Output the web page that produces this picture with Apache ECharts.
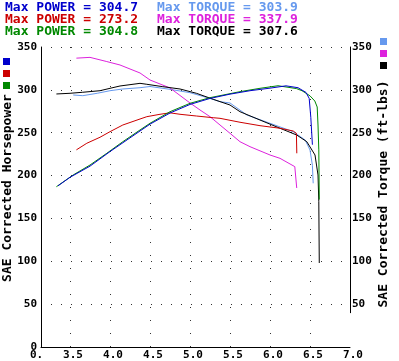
<!DOCTYPE html>
<html>
<head>
<meta charset="utf-8">
<script src="https://cdn.jsdelivr.net/npm/echarts@6/dist/echarts.min.js"></script>
<style>html,body{margin:0;padding:0;background:#fff;}#c{width:399px;height:361px;}</style>
</head>
<body>
<div id="c"></div>
<script>
// ---- data (RPM x1000, value) ----
const xTicks = [3.5, 4.0, 4.5, 5.0, 5.5, 6.0, 6.5, 7.0];
const xGridTicks = [3.5, 4.0, 4.5, 5.0, 5.5, 6.0, 6.5];
const rightTicks = [50, 100, 150, 200, 250, 300, 350];

const rpmPowerBlue = [3.35, 3.5, 3.75, 4.0, 4.25, 4.5, 4.75, 5.0, 5.25, 5.5, 5.75, 6.0, 6.2, 6.35, 6.45, 6.49, 6.51, 6.53];
const hpBlue       = [188, 198, 211, 228, 244, 260, 273, 283, 290, 295, 299, 302, 304.7, 302.5, 297, 290, 268, 236];

const rpmPowerRed = [3.58, 3.71, 3.875, 4.0, 4.16, 4.375, 4.46, 4.625, 4.75, 4.875, 5.08, 5.29, 5.375, 5.625, 5.875, 6.125, 6.29, 6.33, 6.335];
const hpRed       = [230, 237.7, 244.7, 251.2, 259, 266, 268.7, 271.5, 273.2, 271.5, 269.5, 267.5, 266.8, 262.2, 258.2, 255.2, 252, 249.3, 226];

const rpmPowerGreen = [3.33, 3.54, 3.75, 3.96, 4.16, 4.375, 4.5, 4.75, 5.0, 5.25, 5.375, 5.625, 5.875, 6.1, 6.33, 6.4, 6.5, 6.56, 6.59, 6.60, 6.61, 6.616];
const hpGreen       = [187, 200.7, 212.3, 226, 239.5, 253.2, 261, 274.5, 284.3, 290.9, 293.2, 297.9, 301.8, 304.8, 301.5, 299, 293, 287, 280, 259, 230, 172];

const rpmTorqueLight = [3.54, 3.66, 3.84, 4.0, 4.16, 4.375, 4.5, 4.75, 5.0, 5.25, 5.375, 5.5, 5.71, 6.0, 6.29, 6.44, 6.5, 6.53, 6.54];
const tqLight        = [294, 293.2, 296, 299, 301, 302.5, 303.9, 300.6, 296.7, 290, 286.2, 284.7, 270.7, 261, 251.2, 241.5, 229.8, 212, 191];

const rpmTorqueMagenta = [3.58, 3.75, 3.96, 4.125, 4.375, 4.5, 4.75, 5.0, 5.125, 5.25, 5.5, 5.625, 5.75, 6.0, 6.125, 6.31, 6.334];
const tqMagenta        = [337, 337.9, 333, 329, 319.7, 311.5, 302.2, 284.7, 276.5, 268.7, 249.3, 239.5, 233.7, 224, 220.1, 210.4, 185.5];

const rpmTorqueBlack = [3.33, 3.5, 3.66, 3.875, 4.0, 4.125, 4.375, 4.46, 4.66, 4.875, 5.08, 5.29, 5.5, 5.625, 5.875, 6.125, 6.334, 6.46, 6.5625, 6.60, 6.61, 6.616];
const tqBlack        = [295.2, 296, 297.2, 299, 301.8, 304.5, 307.6, 306.5, 303.7, 301, 296, 289, 282.3, 274.5, 264.8, 255.2, 247.3, 239.5, 224, 200.7, 170, 98];

const zip = (a, b) => a.map((v, i) => [v, b[i]]);

const C = {
  blue: '#0000cc', red: '#cc0000', green: '#008800',
  light: '#6699ee', magenta: '#dd22dd', black: '#000000'
};
const mono = '"DejaVu Sans Mono", "Liberation Mono", monospace';

const chart = echarts.init(document.getElementById('c'), null, {renderer: 'canvas'});

function topText(txt, color, left, top) {
  return {text: txt, left: left, top: top, padding: 0,
    textStyle: {color: color, fontFamily: mono, fontSize: 13, fontWeight: 'bold'}};
}

function line(name, data, color, xi, yi) {
  return {name: name, type: 'line', data: data, xAxisIndex: xi, yAxisIndex: yi,
    showSymbol: false, symbol: 'none', animation: false,
    lineStyle: {color: color, width: 1}, itemStyle: {color: color}};
}

const option = {
  animation: false,
  backgroundColor: '#ffffff',
  title: [
    topText('Max POWER = 304.7', C.blue, 5, 1),
    topText('Max POWER = 273.2', C.red, 5, 13),
    topText('Max POWER = 304.8', C.green, 5, 25),
    topText('Max TORQUE = 303.9', C.light, 157, 1),
    topText('Max TORQUE = 337.9', C.magenta, 157, 13),
    topText('Max TORQUE = 307.6', C.black, 157, 25)
  ],
  legend: [
    {data: ['Power 1', 'Power 2', 'Power 3'], orient: 'vertical', left: 3, top: 58,
     itemWidth: 7, itemHeight: 7, itemGap: 5, icon: 'rect', padding: 0,
     formatter: () => '', textStyle: {fontSize: 1}},
    {data: ['Torque 1', 'Torque 2', 'Torque 3'], orient: 'vertical', left: 380, top: 38,
     itemWidth: 7, itemHeight: 7, itemGap: 5, icon: 'rect', padding: 0,
     formatter: () => '', textStyle: {fontSize: 1}}
  ],
  grid: [
    {left: 41, right: 49, top: 47, bottom: 14},
    {left: 41, right: 49, top: 47, bottom: 48.29}
  ],
  xAxis: [
    {type: 'value', gridIndex: 0, min: 3.1375, max: 7.0,
     axisLine: {show: true, onZero: false, lineStyle: {color: '#000', width: 1}},
     axisTick: {show: false, customValues: xGridTicks},
     axisLabel: {customValues: xTicks, margin: 3, padding: [0, 0, 0, 6], color: '#000', fontFamily: mono, fontSize: 11, fontWeight: 'bold',
       formatter: v => v.toFixed(1)},
     splitLine: {show: true, lineStyle: {color: '#333', width: 1, type: [1, 12]}}},
    {type: 'value', gridIndex: 1, min: 3.1375, max: 7.0, show: false}
  ],
  yAxis: [
    {type: 'value', gridIndex: 0, min: 0, max: 350, interval: 50, position: 'left',
     axisLine: {show: true, lineStyle: {color: '#000', width: 1}},
     axisTick: {show: false},
     axisLabel: {margin: 4, color: '#000', fontFamily: mono, fontSize: 11, fontWeight: 'bold'},
     splitLine: {show: true, lineStyle: {color: '#333', width: 1, type: [1, 9]}}},
    {type: 'value', gridIndex: 1, min: 40, max: 350, position: 'right',
     axisLine: {show: true, lineStyle: {color: '#000', width: 1}},
     axisTick: {show: false, customValues: rightTicks},
     axisLabel: {customValues: rightTicks, margin: 2, color: '#000', fontFamily: mono, fontSize: 11, fontWeight: 'bold'},
     splitLine: {show: false}}
  ],
  graphic: [
    {type: 'text', x: 8, y: 188, rotation: Math.PI / 2,
     style: {text: 'SAE Corrected Horsepower', align: 'center', verticalAlign: 'middle',
       fill: '#000', font: 'bold 13px ' + mono}},
    {type: 'text', x: 384, y: 194, rotation: Math.PI / 2,
     style: {text: 'SAE Corrected Torque (ft-lbs)', align: 'center', verticalAlign: 'middle',
       fill: '#000', font: 'bold 13px ' + mono}},
    {type: 'text', x: 30, y: 350,
     style: {text: '0.', align: 'left', verticalAlign: 'top', fill: '#000', font: 'bold 11px ' + mono}}
  ],
  series: [
    line('Torque 1', zip(rpmTorqueLight, tqLight), C.light, 1, 1),
    line('Torque 2', zip(rpmTorqueMagenta, tqMagenta), C.magenta, 1, 1),
    line('Torque 3', zip(rpmTorqueBlack, tqBlack), C.black, 1, 1),
    line('Power 2', zip(rpmPowerRed, hpRed), C.red, 0, 0),
    line('Power 3', zip(rpmPowerGreen, hpGreen), C.green, 0, 0),
    line('Power 1', zip(rpmPowerBlue, hpBlue), C.blue, 0, 0)
  ]
};
chart.setOption(option);
</script>
</body>
</html>
